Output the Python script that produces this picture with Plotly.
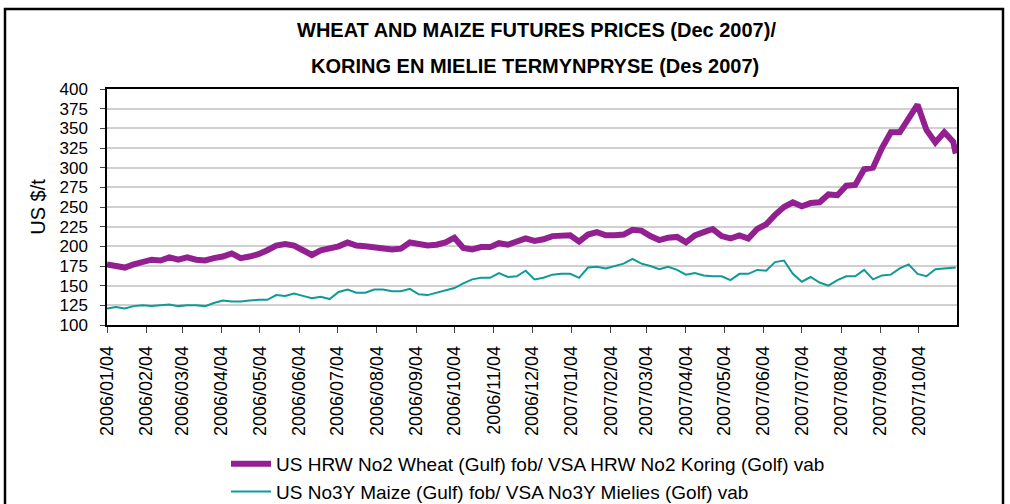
import plotly.graph_objects as go

dates = ["2006-01-04","2006-01-11","2006-01-18","2006-01-25","2006-02-01","2006-02-08","2006-02-15","2006-02-22",
         "2006-03-01","2006-03-08","2006-03-15","2006-03-22","2006-03-29","2006-04-05","2006-04-12","2006-04-19",
         "2006-04-26","2006-05-03","2006-05-10","2006-05-17","2006-05-24","2006-05-31","2006-06-07","2006-06-14",
         "2006-06-21","2006-06-28","2006-07-05","2006-07-12","2006-07-19","2006-07-26","2006-08-02","2006-08-09",
         "2006-08-16","2006-08-23","2006-08-30","2006-09-06","2006-09-13","2006-09-20","2006-09-27","2006-10-04",
         "2006-10-11","2006-10-18","2006-10-25","2006-11-01","2006-11-08","2006-11-15","2006-11-22","2006-11-29",
         "2006-12-06","2006-12-13","2006-12-20","2006-12-27",
         "2007-01-03","2007-01-10","2007-01-17","2007-01-24","2007-01-31","2007-02-07","2007-02-14","2007-02-21",
         "2007-02-28","2007-03-07","2007-03-14","2007-03-21","2007-03-28","2007-04-04","2007-04-11","2007-04-18",
         "2007-04-25","2007-05-02","2007-05-09","2007-05-16","2007-05-23","2007-05-30","2007-06-06","2007-06-13",
         "2007-06-20","2007-06-27","2007-07-04","2007-07-11","2007-07-18","2007-07-25","2007-08-01","2007-08-08",
         "2007-08-15","2007-08-22","2007-08-29","2007-09-05","2007-09-12","2007-09-19","2007-09-26","2007-10-03",
         "2007-10-10","2007-10-17","2007-10-24","2007-10-31","2007-11-02"]

wheat = [177,175,173,177,181,183,182,186,183,186,
         183,182,185,187,191,185,187,190,195,201,
         203,201,195,189,195,198,200,205,201,200,
         199,198,196,197,205,203,201,202,205,211,
         198,196,199,199,204,202,206,210,207,209,
         213,214,214,206,215,218,214,214,215,221,
         220,213,208,211,212,205,214,218,222,213,
         210,214,210,222,228,240,250,256,251,255,
         256,266,265,277,278,298,300,325,345,345,
         362,380,348,332,345,333,318]

maize = [121,123,121,124,125,124,125,126,124,125,
         125,124,128,131,130,130,131,132,132,138,
         137,140,137,134,136,133,142,145,141,141,
         145,145,143,143,146,139,138,141,144,147,
         153,158,160,160,166,161,162,169,158,160,
         164,165,165,160,173,174,172,175,178,184,
         178,175,171,174,170,164,166,163,162,162,
         157,165,165,170,169,180,182,165,155,161,
         154,150,157,162,162,170,158,163,164,172,
         177,165,162,171,172,173,173]

tick_dates = ["2006-01-04","2006-02-04","2006-03-04","2006-04-04","2006-05-04","2006-06-04","2006-07-04",
              "2006-08-04","2006-09-04","2006-10-04","2006-11-04","2006-12-04","2007-01-04","2007-02-04",
              "2007-03-04","2007-04-04","2007-05-04","2007-06-04","2007-07-04","2007-08-04","2007-09-04",
              "2007-10-04"]
tick_labels = [d.replace("-", "/") for d in tick_dates]

title1 = "WHEAT AND MAIZE FUTURES PRICES (Dec 2007)/"
title2 = "KORING EN MIELIE TERMYNPRYSE (Des 2007)"
wheat_name = "US HRW No2 Wheat (Gulf) fob/ VSA HRW No2 Koring (Golf) vab"
maize_name = "US No3Y Maize (Gulf) fob/ VSA No3Y Mielies (Golf) vab"

FONT = "Liberation Sans Narrow, Arial Narrow, Liberation Sans, Arial, sans-serif"

fig = go.Figure()
fig.add_trace(go.Scatter(x=dates, y=wheat, mode="lines", name=wheat_name,
                         line=dict(color="#922090", width=6)))
fig.add_trace(go.Scatter(x=dates, y=maize, mode="lines", name=maize_name,
                         line=dict(color="#0e9a96", width=2)))

L, R, T, B = 107, 53, 89, 179
W, H = 1010, 504
pw, ph = W - L - R, H - T - B

def px(x):
    return (x - L) / pw

def py(y):
    return (H - B - y) / ph

fig.update_layout(
    width=W, height=H,
    margin=dict(l=L, r=R, t=T, b=B, autoexpand=False),
    paper_bgcolor="white", plot_bgcolor="white",
    font=dict(family=FONT, color="black"),
    showlegend=True,
    legend=dict(x=px(226), y=py(511), xanchor="left", yanchor="bottom",
                font=dict(family=FONT, size=19, color="black"),
                bgcolor="rgba(0,0,0,0)", tracegroupgap=0, itemwidth=40),
    xaxis=dict(type="date", range=["2006-01-04", "2007-11-03"],
               tickvals=tick_dates, ticktext=tick_labels, tickangle=-90,
               tickfont=dict(family=FONT, size=18, color="black"),
               ticks="outside", ticklen=6, tickcolor="#444", tickwidth=1,
               ticklabelstandoff=6,
               showgrid=False, showline=True, linecolor="black", linewidth=1.5,
               mirror=True, zeroline=False, automargin=False),
    yaxis=dict(range=[100, 400], dtick=25, tick0=100,
               tickfont=dict(family=FONT, size=17, color="black"),
               ticks="outside", ticklen=5, tickcolor="#444",
               ticklabelstandoff=9,
               showgrid=True, gridcolor="#d0d0d0", gridwidth=1.5,
               showline=True, linecolor="black", linewidth=1.5, mirror=True,
               zeroline=False, automargin=False,
               title=dict(text="US $/t", font=dict(family=FONT, size=20, color="black"),
                          standoff=8)),
    annotations=[
        dict(text="<b>" + title1 + "</b>", x=px(536), y=py(30), xref="paper", yref="paper",
             showarrow=False, xanchor="center", yanchor="middle",
             font=dict(family=FONT, size=20, color="black")),
        dict(text="<b>" + title2 + "</b>", x=px(535), y=py(66), xref="paper", yref="paper",
             showarrow=False, xanchor="center", yanchor="middle",
             font=dict(family=FONT, size=20, color="black")),
    ],
    shapes=[
        dict(type="rect", xref="paper", yref="paper",
             x0=px(5), x1=px(1003), y0=py(520), y1=py(9),
             line=dict(color="black", width=2.5), fillcolor="rgba(0,0,0,0)", layer="below"),
    ],
)

fig.write_html("out.html", config={"displayModeBar": False},
               post_script="document.body.style.margin='0px';")
